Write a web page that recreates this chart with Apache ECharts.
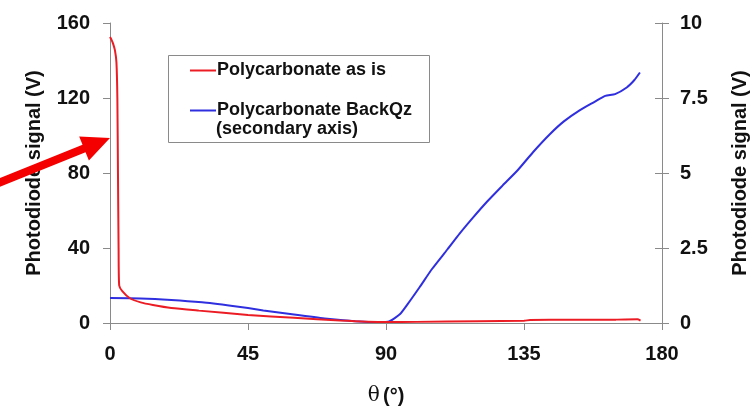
<!DOCTYPE html>
<html>
<head>
<meta charset="utf-8">
<style>
  html, body { margin: 0; padding: 0; background: #fff; }
  #chart { width: 750px; height: 419px; }
</style>
<script src="https://cdn.jsdelivr.net/npm/echarts@6/dist/echarts.min.js"></script>
</head>
<body>
<div id="chart"></div>
<script>
// Scattering angle (degrees) and photodiode signal (V), untreated polycarbonate
const thetaAsIs = [0, 0.5, 1, 1.6, 2.1, 2.4, 2.6, 2.8, 3.0, 4, 6.5, 10, 14, 20, 29, 45, 60, 75, 90, 100, 120, 135, 137, 150, 165, 172, 173];
const signalAsIs = [152.5, 151, 149, 145.5, 139, 120, 80, 40, 20, 17, 13.2, 11, 9.6, 8, 6.6, 4.3, 2.8, 1.3, 0.5, 0.6, 0.9, 1.2, 1.6, 1.7, 1.8, 2.0, 1.3];

// Polycarbonate with quartz backing, plotted on the secondary axis
const thetaBackQz = [0, 10, 20, 30, 40, 45, 50, 60, 70, 80, 88, 91, 94.6, 97, 101, 105, 110, 114, 118.5, 123, 128, 133, 138, 143.5, 148, 153, 158, 161.5, 164.7, 168.5, 171, 172.8];
const signalBackQz = [0.83, 0.82, 0.77, 0.69, 0.57, 0.5, 0.42, 0.28, 0.15, 0.06, 0.03, 0.05, 0.3, 0.62, 1.2, 1.8, 2.45, 2.98, 3.53, 4.05, 4.58, 5.1, 5.7, 6.3, 6.72, 7.08, 7.37, 7.57, 7.63, 7.85, 8.1, 8.35];

const seriesNames = ['Polycarbonate as is', 'Polycarbonate BackQz'];
const legendNote = '(secondary axis)';
const yTitle = 'Photodiode signal (V)';

const FONT = '"Liberation Sans", Arial, sans-serif';
const RED = '#ec1c24';
const BLUE = '#2f2fe0';
const AXIS = '#8a8a8a';

const zip = (xs, ys) => xs.map((x, i) => [x, ys[i]]);

// Red pointer arrow drawn as an annotation
function arrowPoints(x0, y0, x1, y1, shaftW, headL, headW) {
  const dx = x1 - x0, dy = y1 - y0;
  const len = Math.hypot(dx, dy);
  const ux = dx / len, uy = dy / len;
  const px = -uy, py = ux;
  const bx = x1 - ux * headL, by = y1 - uy * headL;
  const s = shaftW / 2, h = headW / 2;
  return [
    [x0 + px * s, y0 + py * s],
    [bx + px * s, by + py * s],
    [bx + px * h, by + py * h],
    [x1, y1],
    [bx - px * h, by - py * h],
    [bx - px * s, by - py * s],
    [x0 - px * s, y0 - py * s]
  ];
}

const chart = echarts.init(document.getElementById('chart'), null, { renderer: 'canvas' });

const labelStyle = { color: '#111', fontFamily: FONT, fontWeight: 'bold', fontSize: 20 };
const titleStyle = { color: '#111', fontFamily: FONT, fontWeight: 'bold', fontSize: 20 };

chart.setOption({
  animation: false,
  backgroundColor: '#fff',
  grid: { left: 110, right: 88, top: 23, bottom: 96, outerBoundsMode: 'none', containLabel: false },
  xAxis: {
    type: 'value',
    min: 0, max: 180, interval: 45,
    name: '{t|θ} {u|(°)}',
    nameLocation: 'middle',
    nameGap: 63,
    nameTextStyle: {
      rich: {
        t: { fontFamily: '"DejaVu Serif", serif', fontSize: 20, color: '#111' },
        u: { fontFamily: FONT, fontWeight: 'bold', fontSize: 20, color: '#111' }
      }
    },
    axisLine: { lineStyle: { color: AXIS, width: 1 } },
    axisTick: { lineStyle: { color: AXIS }, length: 7 },
    axisLabel: Object.assign({ margin: 21 }, labelStyle),
    splitLine: { show: false }
  },
  yAxis: [
    {
      type: 'value',
      min: 0, max: 160, interval: 40,
      name: yTitle,
      nameLocation: 'middle',
      nameGap: 66,
      nameTextStyle: titleStyle,
      axisLine: { show: true, lineStyle: { color: AXIS, width: 1 } },
      axisTick: { show: true, lineStyle: { color: AXIS }, length: 7 },
      axisLabel: Object.assign({ margin: 20 }, labelStyle),
      splitLine: { show: false }
    },
    {
      type: 'value',
      position: 'right',
      min: 0, max: 10, interval: 2.5,
      name: yTitle,
      nameLocation: 'middle',
      nameGap: 68,
      nameRotate: 90,
      nameTextStyle: titleStyle,
      axisLine: { show: true, lineStyle: { color: AXIS, width: 1 } },
      axisTick: { show: true, lineStyle: { color: AXIS }, length: 7 },
      axisLabel: Object.assign({ margin: 18 }, labelStyle),
      splitLine: { show: false }
    },
    {
      // inner half of the cross ticks on the secondary axis
      type: 'value',
      position: 'right',
      min: 0, max: 10, interval: 2.5,
      axisLine: { show: false },
      axisTick: { show: true, inside: true, lineStyle: { color: AXIS }, length: 7 },
      axisLabel: { show: false },
      splitLine: { show: false }
    }
  ],
  legend: {
    orient: 'vertical',
    left: 185,
    top: 55,
    itemWidth: 26,
    itemHeight: 2,
    itemGap: 19,
    icon: 'rect',
    data: seriesNames,
    textStyle: { color: '#111', fontFamily: FONT, fontWeight: 'bold', fontSize: 18, lineHeight: 21, padding: [0, 0, 0, -4] }
  },
  graphic: [
    {
      type: 'rect',
      z: 0,
      shape: { x: 168.5, y: 55.5, width: 261, height: 87 },
      style: { fill: '#fff', stroke: AXIS, lineWidth: 1 }
    },
    {
      type: 'text',
      z: 10,
      x: 216, y: 129,
      style: { text: legendNote, fill: '#111', font: 'bold 18px ' + FONT, verticalAlign: 'middle' }
    },
    {
      type: 'polygon',
      z: 20,
      shape: { points: arrowPoints(-4, 184, 110, 138, 8, 28, 26) },
      style: { fill: '#f40000' }
    }
  ],
  series: [
    {
      name: seriesNames[0],
      type: 'line',
      yAxisIndex: 0,
      data: zip(thetaAsIs, signalAsIs),
      showSymbol: false,
      smooth: 0.2,
      color: RED,
      lineStyle: { width: 2, color: RED },
      z: 3
    },
    {
      name: seriesNames[1],
      type: 'line',
      yAxisIndex: 1,
      data: zip(thetaBackQz, signalBackQz),
      showSymbol: false,
      smooth: 0.2,
      color: BLUE,
      lineStyle: { width: 2, color: BLUE },
      z: 2
    }
  ]
});
</script>
</body>
</html>
